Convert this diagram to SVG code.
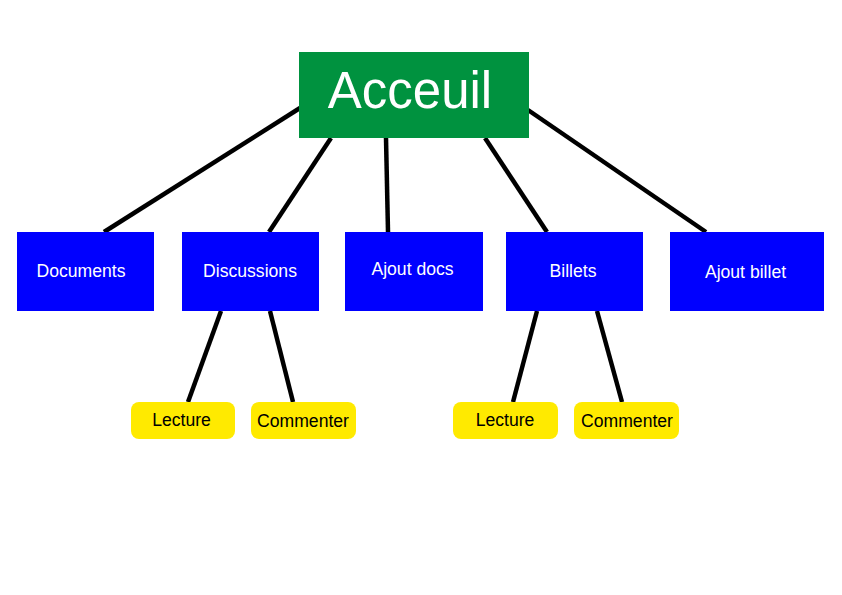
<svg xmlns="http://www.w3.org/2000/svg" width="842" height="595" viewBox="0 0 842 595">
<style>
.c{stroke:#000;stroke-width:4.5;fill:none}
.b{fill:#0000ff}
.y{fill:#ffea00}
.t{font-family:"Liberation Sans",Arial,sans-serif;font-size:17.6px;text-anchor:middle}
.w{fill:#fff}
.k{fill:#000}
</style>
<rect width="842" height="595" fill="#fff"/>
<g id="connectors">
<line class="c" x1="300" y1="108" x2="104" y2="232"/>
<line class="c" x1="331" y1="138" x2="269" y2="232"/>
<line class="c" x1="386" y1="138" x2="388" y2="232"/>
<line class="c" x1="485" y1="138" x2="547" y2="232"/>
<line class="c" x1="528" y1="110" x2="706" y2="232"/>
<line class="c" x1="221" y1="311" x2="188" y2="402"/>
<line class="c" x1="270" y1="311" x2="293" y2="402"/>
<line class="c" x1="537" y1="311" x2="513" y2="402"/>
<line class="c" x1="597" y1="311" x2="622" y2="402"/>
</g>
<g id="acceuil">
<rect x="299" y="52" width="230" height="86" fill="#00923f"/>
<text x="410" y="108" class="t w" style="font-size:51px">Acceuil</text>
</g>
<g id="documents">
<rect class="b" x="17" y="232" width="137" height="79"/>
<text class="t w" x="81" y="277">Documents</text>
</g>
<g id="discussions">
<rect class="b" x="182" y="232" width="137" height="79"/>
<text class="t w" x="250" y="277">Discussions</text>
</g>
<g id="ajout-docs">
<rect class="b" x="345" y="232" width="138" height="79"/>
<text class="t w" x="412.5" y="275">Ajout docs</text>
</g>
<g id="billets">
<rect class="b" x="506" y="232" width="137" height="79"/>
<text class="t w" x="573" y="277">Billets</text>
</g>
<g id="ajout-billet">
<rect class="b" x="670" y="232" width="154" height="79"/>
<text class="t w" x="745.5" y="278">Ajout billet</text>
</g>
<g id="lecture1">
<rect class="y" x="131" y="402" width="104" height="37" rx="8"/>
<text class="t k" x="181.5" y="426">Lecture</text>
</g>
<g id="commenter1">
<rect class="y" x="251" y="402" width="105" height="37" rx="8"/>
<text class="t k" x="303" y="427">Commenter</text>
</g>
<g id="lecture2">
<rect class="y" x="453" y="402" width="105" height="37" rx="8"/>
<text class="t k" x="505" y="426">Lecture</text>
</g>
<g id="commenter2">
<rect class="y" x="574" y="402" width="105" height="37" rx="8"/>
<text class="t k" x="627" y="427">Commenter</text>
</g>
</svg>
